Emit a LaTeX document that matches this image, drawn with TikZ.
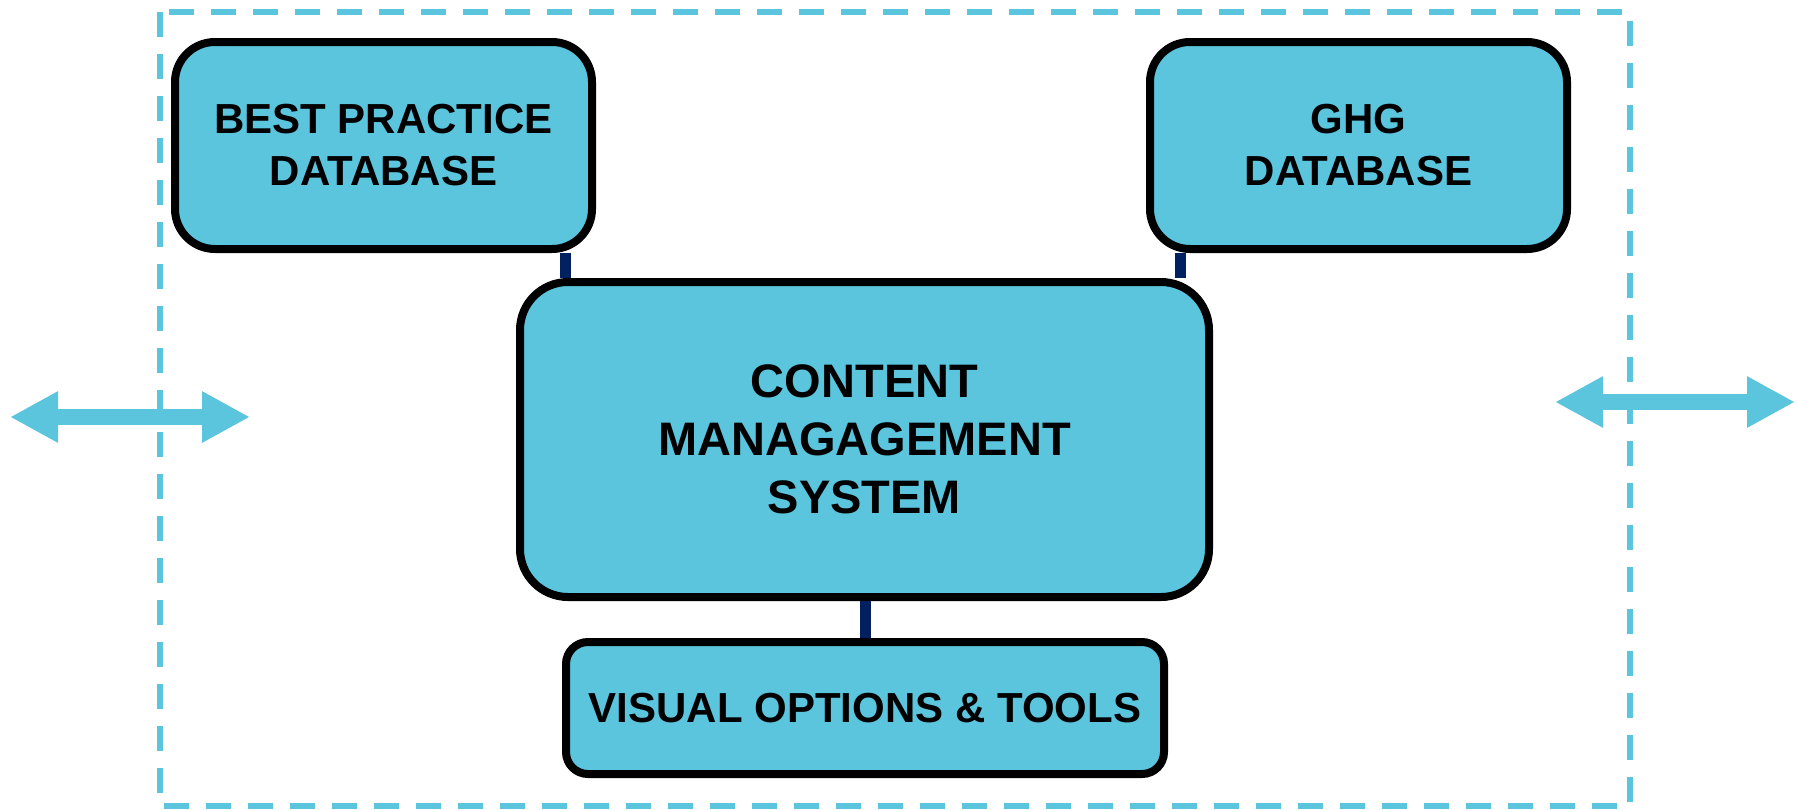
\documentclass[tikz,border=0pt]{standalone}
\usepackage{fontspec}
\setmainfont{Liberation Sans}
\usetikzlibrary{arrows.meta}
\definecolor{boxfill}{RGB}{91,197,222}
\definecolor{navy}{RGB}{0,32,96}
\tikzset{
  box/.style={draw=black, line width=8pt, fill=boxfill, inner sep=0pt, align=center,
    font=\fontsize{42}{52}\selectfont\bfseries},
  conn/.style={draw=navy, line width=11pt},
  frame/.style={draw=boxfill, line width=6pt, dash pattern=on 25pt off 17pt},
  bigarrow/.style={draw=boxfill, line width=16pt,
    {Triangle[length=48pt,width=48pt]}-{Triangle[length=48pt,width=48pt]}},
}
\begin{document}
\begin{tikzpicture}[x=1pt,y=-1pt]
\useasboundingbox (0,0) rectangle (1798,809);
% frame
\draw[frame] (160,12) rectangle (1630,806);
% arrows
\coordinate (la1) at (10,417);
\coordinate (la2) at (250,417);
\coordinate (ra1) at (1555,402);
\coordinate (ra2) at (1795,402);
\draw[bigarrow] (la1) -- (la2);
\draw[bigarrow] (ra1) -- (ra2);
% boxes
\node[box, rounded corners=40pt, minimum width=417pt, minimum height=207pt] (best) at (383.5,145.5) {BEST PRACTICE\\DATABASE};
\node[box, rounded corners=40pt, minimum width=417pt, minimum height=207pt] (ghg) at (1358.5,145.5) {GHG\\DATABASE};
\node[box, rounded corners=48pt, minimum width=689pt, minimum height=315pt,
  font=\fontsize{47}{58}\selectfont\bfseries] (cms) at (864.5,439.5) {CONTENT\\MANAGAGEMENT\\SYSTEM};
\node[box, rounded corners=22pt, minimum width=598pt, minimum height=132pt] (vis) at (865,708) {VISUAL OPTIONS \& TOOLS};
% connectors
\coordinate (c1) at (565,0);
\coordinate (c2) at (1180,0);
\coordinate (c3) at (865,0);
\draw[conn] (best.south -| c1) -- (cms.north -| c1);
\draw[conn] (ghg.south -| c2) -- (cms.north -| c2);
\draw[conn] (cms.south -| c3) -- (vis.north -| c3);
\end{tikzpicture}
\end{document}
